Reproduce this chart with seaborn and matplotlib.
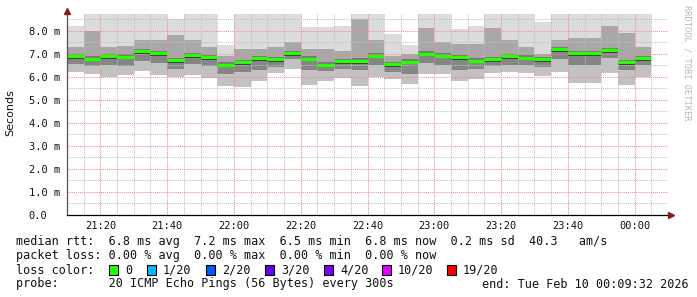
import numpy as np
import pandas as pd
import matplotlib
matplotlib.use("Agg")
import matplotlib.pyplot as plt
import matplotlib.transforms as mtrans
from matplotlib.patches import Rectangle
import seaborn as sns

# ---------------- data ----------------
slot_times = ["21:10", "21:15", "21:20", "21:25", "21:30", "21:35", "21:40", "21:45",
              "21:50", "21:55", "22:00", "22:05", "22:10", "22:15", "22:20", "22:25",
              "22:30", "22:35", "22:40", "22:45", "22:50", "22:55", "23:00", "23:05",
              "23:10", "23:15", "23:20", "23:25", "23:30", "23:35", "23:40", "23:45",
              "23:50", "23:55", "00:00"]
median_ms = [6.89, 6.78, 6.89, 6.87, 7.10, 7.03, 6.73, 6.93, 6.84, 6.52, 6.62, 6.79,
             6.75, 7.03, 6.78, 6.52, 6.68, 6.69, 6.91, 6.55, 6.65, 7.00, 6.91, 6.85,
             6.70, 6.76, 6.88, 6.83, 6.77, 7.21, 7.03, 7.03, 7.14, 6.64, 6.81]
smoke_min = [6.22, 6.11, 6.00, 6.07, 6.26, 6.07, 6.00, 6.07, 5.93, 5.59, 5.57, 5.80,
             6.14, 6.32, 5.66, 5.82, 5.95, 5.59, 6.00, 5.88, 5.68, 6.11, 6.10, 5.80,
             5.88, 6.17, 6.22, 6.14, 6.03, 6.22, 5.71, 5.71, 6.14, 5.64, 6.00]
smoke_q1 = [6.55, 6.45, 6.50, 6.45, 6.70, 6.60, 6.35, 6.55, 6.45, 6.10, 6.20, 6.30,
            6.40, 6.75, 6.30, 6.25, 6.35, 6.30, 6.50, 6.20, 6.10, 6.60, 6.50, 6.30,
            6.35, 6.45, 6.50, 6.50, 6.40, 6.75, 6.50, 6.50, 6.80, 6.30, 6.50]
smoke_q3 = [7.30, 8.00, 7.30, 7.35, 7.60, 7.60, 7.80, 7.60, 7.30, 6.90, 7.20, 7.20,
            7.30, 7.50, 7.20, 7.20, 7.10, 8.50, 7.60, 6.90, 7.00, 8.10, 7.50, 7.40,
            7.40, 8.10, 7.60, 7.30, 7.00, 7.60, 7.70, 7.70, 8.20, 7.90, 7.30]
smoke_max = [8.20, 9.00, 9.00, 9.00, 9.00, 9.00, 8.50, 9.00, 9.00, 7.37, 9.00, 9.00,
             9.00, 9.00, 8.14, 8.14, 8.20, 9.00, 9.00, 7.85, 7.37, 9.00, 9.00, 8.07,
             8.20, 9.00, 9.00, 9.00, 8.38, 9.00, 9.00, 9.00, 9.00, 9.00, 9.00]
x_tick_labels = ["21:20", "21:40", "22:00", "22:20", "22:40", "23:00", "23:20", "23:40", "00:00"]
y_tick_values = [0, 1, 2, 3, 4, 5, 6, 7, 8]
y_tick_labels = ["0.0", "1.0 m", "2.0 m", "3.0 m", "4.0 m", "5.0 m", "6.0 m", "7.0 m", "8.0 m"]
loss_labels = ["0", "1/20", "2/20", "3/20", "4/20", "10/20", "19/20"]
loss_colors = ["#26ff00", "#00b8ff", "#0059ff", "#5e00ff", "#7e00ff", "#dd00ff", "#ff0000"]

# ---------------- helpers ----------------
W, H = 697, 297
T0 = 21 * 60 + 10


def to_min(s):
    h, m = s.split(":")
    return (int(h) * 60 + int(m) - T0) % 1440


def px(x, y):
    return x / W, 1 - y / H


STEP = 5
starts = np.array([to_min(t) for t in slot_times], dtype=float)
centers = starts + STEP / 2
med = np.array(median_ms)

sns.set_style("white")
plt.rcParams["font.family"] = ["DejaVu Sans"]
MONO = "DejaVu Sans Mono"

fig = plt.figure(figsize=(W / 100, H / 100), dpi=100)
fig.patch.set_facecolor("white")
ax = fig.add_axes([67 / W, 1 - 215 / H, (668 - 67) / W, (215 - 14) / H])
ax.set_facecolor("white")


def layer(heights, color, z):
    sns.barplot(x=centers, y=np.asarray(heights, dtype=float), native_scale=True,
                width=1.0, color=color, saturation=1, errorbar=None,
                linewidth=0, edgecolor="none", antialiased=False, ax=ax, zorder=z)


# smoke painted from zero, each layer over the previous one (darker toward the median)
layer(smoke_max, "#dcdcdc", 1.0)
layer(smoke_q3, "#a8a8a8", 1.1)
layer(med + 0.10, "#7a7a7a", 1.2)
layer(med - 0.03, "#353535", 1.3)
layer(med - 0.12, "#858585", 1.4)
layer(smoke_q1, "#c2c2c2", 1.5)
layer(smoke_min, "#ffffff", 1.6)

# median segments
seg = pd.DataFrame({
    "t": np.concatenate([starts, starts + STEP]),
    "v": np.concatenate([med, med]),
    "col": np.concatenate([np.arange(len(med)), np.arange(len(med))]),
})
sns.lineplot(data=seg, x="t", y="v", units="col", estimator=None, color="#26ff00",
             linewidth=2.3, solid_capstyle="butt", ax=ax, zorder=4, legend=False)

# axes
ax.set_xlim(0, 180)
ax.set_ylim(0, 8.72)
ax.set_xlabel("")
ax.set_ylabel("")
ax.set_xticks([to_min(t) for t in x_tick_labels])
ax.set_xticklabels(x_tick_labels, fontfamily=MONO, fontsize=7.5)
ax.set_xticks(np.arange(0, 180, 5), minor=True)
ax.set_yticks(y_tick_values)
ax.set_yticklabels(y_tick_labels, fontfamily=MONO, fontsize=7.5)
ax.set_yticks(np.arange(0, 8.7, 0.5), minor=True)
for lab in ax.get_yticklabels():
    lab.set_horizontalalignment("left")

ax.grid(which="major", color="#f28a8a", linestyle=(0, (1, 1)), linewidth=0.75)
ax.grid(which="minor", color="#c0c0c0", linestyle=(0, (1, 1)), linewidth=0.75)
ax.set_axisbelow(False)
for gl in ax.get_xgridlines() + ax.get_ygridlines():
    gl.set_zorder(3)

ax.tick_params(axis="y", which="major", direction="inout", length=4, width=0.8,
               color="#505050", pad=25.5, labelcolor="#111111")
ax.tick_params(axis="y", which="minor", direction="inout", length=2, width=0.8, color="#505050")
ax.tick_params(axis="x", which="major", direction="in", length=2, width=0.8,
               color="#505050", pad=4, labelcolor="#111111")
ax.tick_params(axis="x", which="minor", direction="in", length=0)

for s in ["top", "right"]:
    ax.spines[s].set_visible(False)
ax.spines["left"].set_color("#555555")
ax.spines["left"].set_linewidth(0.9)
ax.spines["bottom"].set_color("#000000")
ax.spines["bottom"].set_linewidth(0.9)
ax.spines["left"].set_zorder(5)
ax.spines["bottom"].set_zorder(5)

# arrows
arrow_col = "#8b1a1a"
up = mtrans.offset_copy(ax.transAxes, fig=fig, x=0, y=3, units="dots")
ax.plot([0, 0], [1, 1.02], color="#555555", lw=0.9, transform=ax.transAxes, clip_on=False, zorder=5)
ax.plot([0], [1], marker="^", ms=5, color=arrow_col, transform=up, clip_on=False, zorder=6)
rt = mtrans.offset_copy(ax.transAxes, fig=fig, x=3, y=0, units="dots")
ax.plot([1], [0], marker=">", ms=5, color=arrow_col, transform=rt, clip_on=False, zorder=6)

# y label
fig.text(*px(10, 113), "Seconds", rotation=90, ha="center", va="center",
         fontsize=8, color="#111111", family="DejaVu Sans")

# watermark
fig.text(*px(687, 5), "RRDTOOL / TOBI OETIKER", rotation=270, ha="center", va="top",
         fontsize=6.3, color="#b8b8b8", family=MONO)

# legend text
FS = 8.5
fig.text(*px(16, 242), "median rtt:  6.8 ms avg  7.2 ms max  6.5 ms min  6.8 ms now  0.2 ms sd  40.3   am/s",
         ha="left", va="center", fontsize=FS, family=MONO, color="#111111")
fig.text(*px(16, 256), "packet loss: 0.00 % avg  0.00 % max  0.00 % min  0.00 % now",
         ha="left", va="center", fontsize=FS, family=MONO, color="#111111")
fig.text(*px(16, 270), "loss color:", ha="left", va="center", fontsize=FS, family=MONO, color="#111111")
box_x = [109, 147, 206, 265, 324, 382, 447]
for bx, lab, colr in zip(box_x, loss_labels, loss_colors):
    fig.add_artist(Rectangle(px(bx, 275), 9 / W, 10 / H, transform=fig.transFigure,
                             facecolor=colr, edgecolor="black", linewidth=0.8))
    fig.text(*px(bx + 16, 270), lab, ha="left", va="center", fontsize=FS, family=MONO, color="#111111")
fig.text(*px(16, 284), "probe:       20 ICMP Echo Pings (56 Bytes) every 300s",
         ha="left", va="center", fontsize=FS, family=MONO, color="#111111")
fig.text(*px(689, 284), "end: Tue Feb 10 00:09:32 2026",
         ha="right", va="center", fontsize=FS, family=MONO, color="#111111")

fig.savefig("out.png", dpi=100, facecolor="white")
